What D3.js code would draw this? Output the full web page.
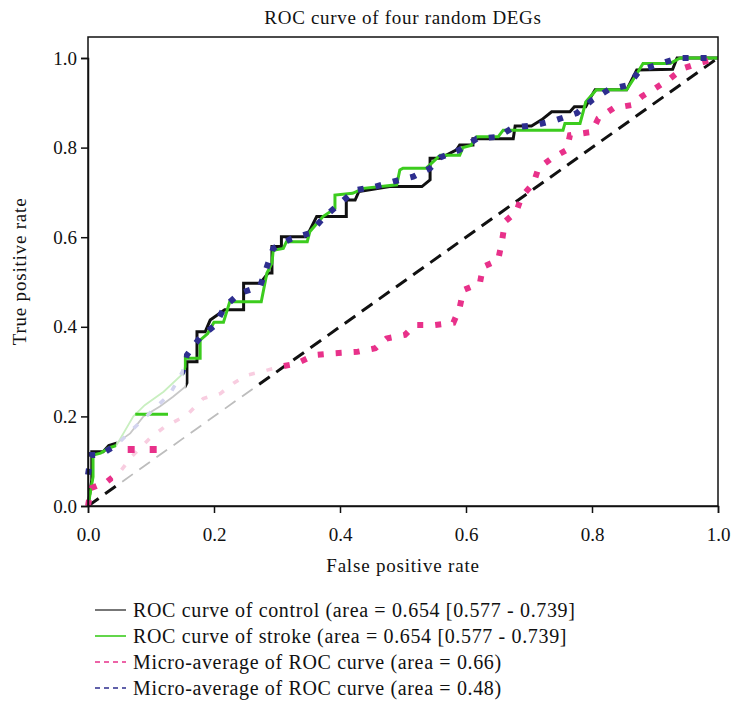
<!DOCTYPE html>
<html>
<head>
<meta charset="utf-8">
<script src="https://cdn.jsdelivr.net/npm/d3@7"></script>
<style>
  body { margin: 0; background: #fff; }
  text { font-family: "Liberation Serif", "DejaVu Serif", serif; fill: #111; }
</style>
</head>
<body>
<div id="chart"></div>
<script>
// --- ROC data (fpr, tpr) ---
const xTicks = [0, 0.2, 0.4, 0.6, 0.8, 1.0];
const yTicks = [0, 0.2, 0.4, 0.6, 0.8, 1.0];

const chance = [[0, 0], [1, 1]];

const controlRoc = [
  [0, 0], [0.006, 0.058], [0.006, 0.121], [0.024, 0.121], [0.033, 0.135], [0.045, 0.14],
  [0.067, 0.162], [0.088, 0.2], [0.114, 0.222], [0.135, 0.244], [0.154, 0.266], [0.157, 0.275],
  [0.157, 0.322], [0.173, 0.322], [0.173, 0.389], [0.186, 0.389], [0.194, 0.415], [0.217, 0.438],
  [0.247, 0.438], [0.247, 0.497], [0.273, 0.497], [0.286, 0.52], [0.292, 0.52], [0.292, 0.579],
  [0.307, 0.579], [0.307, 0.601], [0.347, 0.601], [0.363, 0.646], [0.41, 0.646], [0.41, 0.683],
  [0.424, 0.683], [0.43, 0.702], [0.479, 0.713], [0.53, 0.713], [0.543, 0.728], [0.543, 0.776],
  [0.559, 0.776], [0.585, 0.795], [0.59, 0.806], [0.611, 0.806], [0.611, 0.82], [0.675, 0.82],
  [0.678, 0.848], [0.704, 0.848], [0.72, 0.862], [0.736, 0.88], [0.765, 0.88], [0.772, 0.891],
  [0.79, 0.891], [0.797, 0.91], [0.805, 0.929], [0.855, 0.929], [0.871, 0.973], [0.928, 0.975],
  [0.935, 1.0], [1, 1.0]
];

const strokeRoc = [
  [0, 0], [0.008, 0.065], [0.008, 0.114], [0.02, 0.118], [0.032, 0.129], [0.045, 0.135],
  [0.072, 0.2], [0.09, 0.225], [0.12, 0.255], [0.151, 0.296], [0.154, 0.311], [0.154, 0.33],
  [0.178, 0.33], [0.178, 0.37], [0.19, 0.385], [0.2, 0.41], [0.215, 0.41], [0.225, 0.456],
  [0.275, 0.456], [0.284, 0.52], [0.292, 0.542], [0.294, 0.571], [0.31, 0.575], [0.315, 0.59],
  [0.348, 0.59], [0.352, 0.612], [0.373, 0.646], [0.392, 0.664], [0.392, 0.694], [0.42, 0.698],
  [0.437, 0.709], [0.49, 0.717], [0.495, 0.75], [0.5, 0.754], [0.537, 0.754], [0.559, 0.783],
  [0.59, 0.783], [0.595, 0.8], [0.608, 0.805], [0.617, 0.824], [0.651, 0.824], [0.659, 0.839],
  [0.754, 0.839], [0.757, 0.854], [0.781, 0.854], [0.786, 0.88], [0.79, 0.902], [0.807, 0.929],
  [0.855, 0.929], [0.87, 0.962], [0.881, 0.988], [0.924, 0.988], [0.94, 1.0], [1, 1.0]
];

const microPink = [
  [0, 0], [0.005, 0.04], [0.03, 0.054], [0.053, 0.08], [0.069, 0.11], [0.098, 0.151],
  [0.122, 0.177], [0.157, 0.203], [0.183, 0.24], [0.21, 0.251], [0.231, 0.274], [0.252, 0.292],
  [0.276, 0.3], [0.305, 0.311], [0.331, 0.318], [0.36, 0.337], [0.392, 0.341], [0.427, 0.344],
  [0.456, 0.352], [0.474, 0.374], [0.503, 0.382], [0.519, 0.404], [0.551, 0.404], [0.58, 0.409],
  [0.59, 0.443], [0.596, 0.482], [0.622, 0.497], [0.627, 0.534], [0.651, 0.549], [0.657, 0.59],
  [0.662, 0.635], [0.68, 0.657], [0.688, 0.69], [0.707, 0.72], [0.715, 0.754], [0.736, 0.776],
  [0.76, 0.795], [0.765, 0.828], [0.8, 0.835], [0.81, 0.865], [0.834, 0.888], [0.863, 0.895],
  [0.879, 0.914], [0.9, 0.932], [0.921, 0.951], [0.945, 0.977], [0.969, 0.988], [1, 1.0]
];

const microBlue = [
  [0, 0.07], [0.005, 0.114], [0.02, 0.114], [0.032, 0.125], [0.045, 0.136], [0.07, 0.17],
  [0.1, 0.21], [0.13, 0.25], [0.15, 0.3], [0.157, 0.337], [0.179, 0.378], [0.202, 0.404],
  [0.217, 0.445], [0.241, 0.475], [0.273, 0.49], [0.284, 0.534], [0.294, 0.575], [0.323, 0.597],
  [0.352, 0.609], [0.373, 0.642], [0.397, 0.672], [0.424, 0.705], [0.456, 0.713], [0.484, 0.724],
  [0.516, 0.735], [0.543, 0.754], [0.559, 0.778], [0.59, 0.795], [0.617, 0.82], [0.651, 0.824],
  [0.675, 0.845], [0.71, 0.85], [0.744, 0.862], [0.776, 0.877], [0.8, 0.906], [0.826, 0.929],
  [0.858, 0.94], [0.876, 0.973], [0.908, 0.987], [0.937, 1.0], [0.971, 1.0], [1, 1.0]
];

// leftover pieces of the pasted image in the lower-left corner
const strokePiece = [[0.075, 0.205], [0.127, 0.205]];
const pinkPiece = [[0.063, 0.126], [0.11, 0.126]];

const legendLabels = [
  "ROC curve of control (area = 0.654 [0.577 - 0.739]",
  "ROC curve of stroke (area = 0.654 [0.577 - 0.739]",
  "Micro-average of ROC curve (area = 0.66)",
  "Micro-average of ROC curve (area = 0.48)"
];

// --- setup ---
const W = 735, H = 704;
const margin = { top: 37, left: 88, right: 17, bottom: 198 };
const innerW = W - margin.left - margin.right;
const innerH = H - margin.top - margin.bottom;

const svg = d3.select("#chart").append("svg")
  .attr("width", W)
  .attr("height", H);

const x = d3.scaleLinear().domain([0, 1]).range([0, innerW]);
const y = d3.scaleLinear().domain([0, 1]).range([innerH, innerH - 448]);

const g = svg.append("g").attr("transform", `translate(${margin.left},${margin.top})`);
const defs = svg.append("defs");

const line = d3.line().x(d => x(d[0])).y(d => y(d[1]));

// clip a series into a faded window and the normal rest
let clipCount = 0;
function drawSeries(data, fade, style, fadeColor) {
  const inId = "clipIn" + (++clipCount), outId = "clipOut" + clipCount;
  defs.append("clipPath").attr("id", inId).append("rect")
    .attr("x", x(fade[0])).attr("width", x(fade[1]) - x(fade[0]))
    .attr("y", -20).attr("height", innerH + 40);
  const out = defs.append("clipPath").attr("id", outId);
  out.append("rect").attr("x", -20).attr("width", x(fade[0]) + 20).attr("y", -20).attr("height", innerH + 40);
  out.append("rect").attr("x", x(fade[1])).attr("width", innerW - x(fade[1]) + 20).attr("y", -20).attr("height", innerH + 40);

  const p1 = g.append("path").datum(data).attr("d", line).attr("fill", "none")
    .attr("clip-path", `url(#${outId})`);
  const p2 = g.append("path").datum(data).attr("d", line).attr("fill", "none")
    .attr("clip-path", `url(#${inId})`);
  Object.entries(style).forEach(([k, v]) => { p1.attr(k, v); p2.attr(k, v); });
  p2.attr("stroke", fadeColor).attr("stroke-width", Math.max(1.5, style["stroke-width"] * 0.6));
}

// --- curves ---
drawSeries(chance, [0.05, 0.27], { stroke: "#111", "stroke-width": 3, "stroke-dasharray": "13,8" }, "#bdbdbd");
drawSeries(controlRoc, [0.045, 0.155], { stroke: "#111", "stroke-width": 3 }, "#c8c8c8");
drawSeries(strokeRoc, [0.045, 0.152], { stroke: "#3ccc1e", "stroke-width": 3 }, "#c9efc0");

g.append("path").datum(strokePiece).attr("d", line)
  .attr("fill", "none").attr("stroke", "#3ccc1e").attr("stroke-width", 3);

drawSeries(microPink, [0.04, 0.3], { stroke: "#e8318a", "stroke-width": 6, "stroke-dasharray": "6,12" }, "#f8cde0");

g.append("path").datum(pinkPiece).attr("d", line)
  .attr("fill", "none").attr("stroke", "#e8318a").attr("stroke-width", 7)
  .attr("stroke-dasharray", "7,15");

drawSeries(microBlue, [0.047, 0.152], { stroke: "#2e2e8f", "stroke-width": 6, "stroke-dasharray": "6,12" }, "#d3d4ef");

// --- frame and axes ---
g.append("rect")
  .attr("x", 0).attr("y", 0).attr("width", innerW).attr("height", innerH)
  .attr("fill", "none").attr("stroke", "#111").attr("stroke-width", 1.5);

const xAxis = g.append("g")
  .attr("transform", `translate(0,${innerH})`)
  .call(d3.axisBottom(x).tickValues(xTicks).tickFormat(d3.format(".1f")).tickSize(7).tickPadding(15));
const yAxis = g.append("g")
  .call(d3.axisLeft(y).tickValues(yTicks).tickFormat(d3.format(".1f")).tickSize(7).tickPadding(4));

[xAxis, yAxis].forEach(a => {
  a.select(".domain").attr("stroke", "#111").attr("stroke-width", 1.5);
  a.selectAll(".tick line").attr("stroke", "#111").attr("stroke-width", 1.5);
  a.selectAll(".tick text").attr("fill", "#111")
    .style("font-family", '"Liberation Serif", serif').style("font-size", "19px");
});

// --- titles ---
svg.append("text")
  .attr("x", margin.left + innerW / 2).attr("y", 24)
  .attr("text-anchor", "middle").style("font-size", "19px").style("letter-spacing", "0.7px")
  .text("ROC curve of four random DEGs");

svg.append("text")
  .attr("x", margin.left + innerW / 2).attr("y", 572)
  .attr("text-anchor", "middle").style("font-size", "19px").style("letter-spacing", "0.8px")
  .text("False positive rate");

svg.append("text")
  .attr("transform", `translate(26,${margin.top + innerH / 2}) rotate(-90)`)
  .attr("text-anchor", "middle").style("font-size", "19px").style("letter-spacing", "0.8px")
  .text("True positive rate");

// --- legend ---
const legendStyles = [
  { stroke: "#555", dash: null },
  { stroke: "#3ccc1e", dash: null },
  { stroke: "#e8318a", dash: "5,4" },
  { stroke: "#2e2e8f", dash: "5,4" }
];

const legend = svg.append("g").attr("transform", "translate(95,610)");
legendLabels.forEach((label, i) => {
  const row = legend.append("g").attr("transform", `translate(0,${i * 26})`);
  row.append("line")
    .attr("x1", 0).attr("x2", 31).attr("y1", 0).attr("y2", 0)
    .attr("stroke", legendStyles[i].stroke).attr("stroke-width", 1.6)
    .attr("stroke-dasharray", legendStyles[i].dash);
  row.append("text")
    .attr("x", 38).attr("y", 0).attr("dy", "0.35em")
    .style("font-size", "20px").style("letter-spacing", "0.65px")
    .text(label);
});
</script>
</body>
</html>
